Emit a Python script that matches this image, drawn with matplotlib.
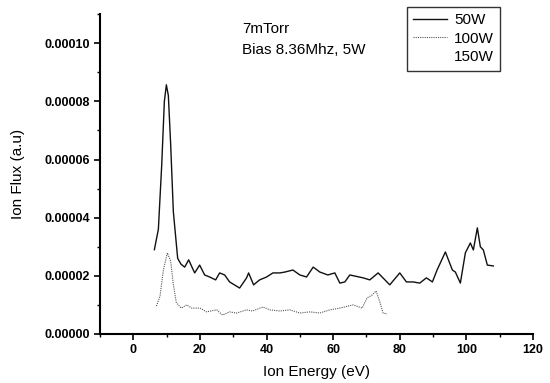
import numpy as np
import matplotlib
matplotlib.use('Agg')
from matplotlib import pyplot as plt
from matplotlib.ticker import MultipleLocator, FormatStrFormatter

plt.rcParams['font.family'] = ['Liberation Sans', 'DejaVu Sans']

# 50W trace
e_50 = [6.3, 7.5, 8.5, 9.3, 9.9, 10.5, 11.2, 12.0, 13.3, 14.3, 15.4, 16.6, 18.4, 19.9, 21.4,
        22.9, 24.7, 25.9, 27.4, 28.9, 31.9, 34.0, 34.6, 36.1, 37.9, 40.0, 41.9, 44.0, 45.5,
        47.9, 50.0, 52.0, 54.0, 56.0, 58.4, 60.5, 62.0, 63.5, 65.0, 69.0, 71.0, 73.5, 77.0,
        80.0, 82.0, 84.0, 86.0, 88.0, 89.8, 91.2, 93.7, 95.8, 96.7, 98.2, 99.7, 101.2, 102.1,
        103.3, 104.2, 105.1, 106.3, 108.1]
f_50 = [2.9e-5, 3.6e-5, 5.8e-5, 8.0e-5, 8.57e-5, 8.2e-5, 6.5e-5, 4.2e-5, 2.6e-5, 2.4e-5,
        2.3e-5, 2.55e-5, 2.1e-5, 2.37e-5, 2.03e-5, 1.96e-5, 1.86e-5, 2.1e-5, 2.03e-5, 1.79e-5,
        1.58e-5, 1.93e-5, 2.1e-5, 1.69e-5, 1.86e-5, 1.96e-5, 2.1e-5, 2.1e-5, 2.13e-5, 2.2e-5,
        2.03e-5, 1.96e-5, 2.3e-5, 2.13e-5, 2.03e-5, 2.1e-5, 1.75e-5, 1.79e-5, 2.03e-5, 1.93e-5,
        1.86e-5, 2.1e-5, 1.69e-5, 2.1e-5, 1.79e-5, 1.79e-5, 1.75e-5, 1.93e-5, 1.79e-5, 2.2e-5,
        2.82e-5, 2.2e-5, 2.13e-5, 1.75e-5, 2.79e-5, 3.13e-5, 2.89e-5, 3.65e-5, 3.0e-5, 2.89e-5,
        2.37e-5, 2.34e-5]

# 100W trace
e_100 = [6.9, 8.0, 9.0, 10.2, 11.2, 12.0, 12.9, 14.4, 16.0, 17.5, 20.0, 22.0, 25.0, 26.8,
         28.9, 31.0, 34.0, 35.8, 38.9, 41.0, 44.0, 47.0, 50.0, 53.0, 56.0, 59.0, 62.0, 66.0,
         68.7, 70.2, 71.7, 72.9, 74.1, 75.0, 76.2]
f_100 = [9.6e-6, 1.3e-5, 2.2e-5, 2.79e-5, 2.5e-5, 1.7e-5, 1.07e-5, 8.9e-6, 1.0e-5, 8.9e-6,
         8.9e-6, 7.6e-6, 8.3e-6, 6.5e-6, 7.6e-6, 7.2e-6, 8.3e-6, 7.9e-6, 9.3e-6, 8.3e-6,
         7.9e-6, 8.3e-6, 7.2e-6, 7.6e-6, 7.2e-6, 8.3e-6, 8.9e-6, 1.0e-5, 8.9e-6, 1.24e-5,
         1.34e-5, 1.48e-5, 1.07e-5, 7.2e-6, 6.9e-6]

series_labels = ['50W', '100W', '150W']

fig = plt.figure(figsize=(5.5, 3.83), dpi=100)
ax = fig.add_axes([0.182, 0.128, 0.787, 0.835])

ax.plot(e_50, f_50, color='#111111', lw=1.0, label=series_labels[0])
ax.plot(e_100, f_100, color='#555555', lw=0.8, ls=(0, (1, 1)), label=series_labels[1])
ax.plot([], [], color='white', lw=0.8, label=series_labels[2])

ax.set_xlim(-10, 120)
ax.set_ylim(0, 0.00011)
ax.xaxis.set_major_locator(MultipleLocator(20))
ax.xaxis.set_minor_locator(MultipleLocator(10))
ax.yaxis.set_major_locator(MultipleLocator(0.00002))
ax.yaxis.set_minor_locator(MultipleLocator(0.00001))
ax.yaxis.set_major_formatter(FormatStrFormatter('%.5f'))

ax.spines['top'].set_visible(False)
ax.spines['right'].set_visible(False)
ax.spines['left'].set_linewidth(1.5)
ax.spines['bottom'].set_linewidth(1.5)
ax.tick_params(which='major', direction='out', length=4, width=1.2, labelsize=9)
ax.tick_params(which='minor', direction='out', length=2.5, width=1.0)
for t in ax.get_xticklabels() + ax.get_yticklabels():
	t.set_fontweight('bold')

ax.set_xlabel('Ion Energy (eV)', fontsize=11, labelpad=6)
ax.set_ylabel('Ion Flux (a.u)', fontsize=11, labelpad=14)

ax.text(0.328, 0.94, '7mTorr', transform=ax.transAxes, fontsize=11)
ax.text(0.328, 0.877, 'Bias 8.36Mhz, 5W', transform=ax.transAxes, fontsize=11)

leg = ax.legend(loc='upper left', bbox_to_anchor=(0.709, 1.022), borderaxespad=0,
                fontsize=11, frameon=True, fancybox=False, edgecolor='black',
                handlelength=2.2, borderpad=0.4, labelspacing=0.3, handletextpad=0.5)
leg.get_frame().set_linewidth(1.0)

fig.savefig('out.png', dpi=100)
